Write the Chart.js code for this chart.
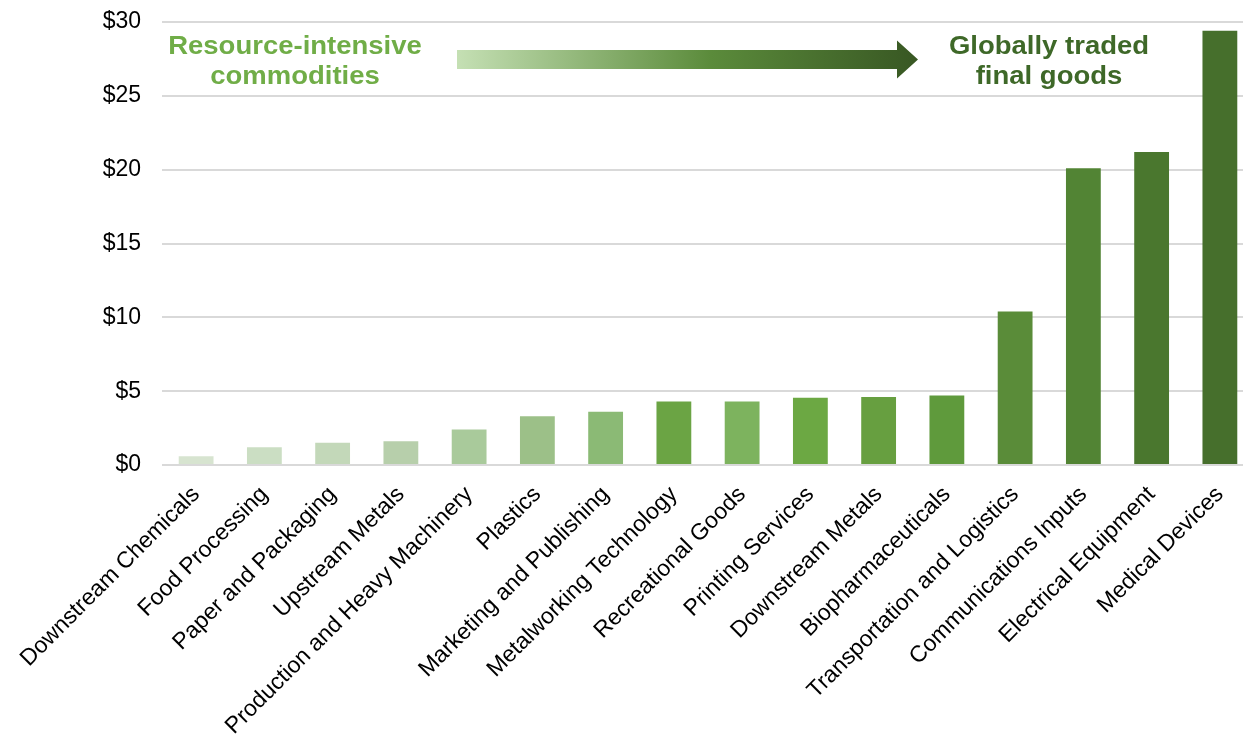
<!DOCTYPE html>
<html lang="en">
<head>
    <meta charset="UTF-8">
    <title>Clusters by value</title>
    <script src="https://cdn.jsdelivr.net/npm/chart.js"></script>
    <style>
        html, body { margin: 0; padding: 0; background: #fff; overflow: hidden; }
        #wrap { width: 1254px; height: 742px; }
    </style>
</head>
<body>
    <div id="wrap"><canvas id="clusterChart" width="1254" height="742"></canvas></div>

    <script>
        // Data
        const categories = [
            "Downstream Chemicals", "Food Processing", "Paper and Packaging", "Upstream Metals",
            "Production and Heavy Machinery", "Plastics", "Marketing and Publishing",
            "Metalworking Technology", "Recreational Goods", "Printing Services", "Downstream Metals",
            "Biopharmaceuticals", "Transportation and Logistics", "Communications Inputs",
            "Electrical Equipment", "Medical Devices"
        ];
        const values = [0.6, 1.2, 1.5, 1.6, 2.4, 3.3, 3.6, 4.3, 4.3, 4.55, 4.6, 4.7, 10.4, 20.1, 21.2, 29.4];
        const barColors = [
            "#d7e4d0", "#cbdec3", "#c3d8b9", "#b7cfab", "#a9ca9b", "#9cc088", "#8bba75",
            "#6ba444", "#7db35e", "#6ca843", "#679f40", "#5f9a3c", "#5a8c39", "#528434",
            "#4a772e", "#466f2c"
        ];
        const yTicks = [0, 5, 10, 15, 20, 25, 30];
        const leftLabel = ["Resource-intensive", "commodities"];
        const rightLabel = ["Globally traded", "final goods"];

        // Header text and gradient arrow
        const annotations = {
            id: "annotations",
            afterDraw(chart) {
                const ctx = chart.ctx;
                const drawLines = (lines, cx, color) => {
                    ctx.save();
                    ctx.fillStyle = color;
                    ctx.font = "bold 25px 'Liberation Sans', Arial, sans-serif";
                    ctx.textAlign = "center";
                    ctx.textBaseline = "alphabetic";
                    lines.forEach((line, i) => {
                        ctx.save();
                        ctx.translate(cx, 54 + i * 30);
                        ctx.scale(1.1, 1);
                        ctx.fillText(line, 0, 0);
                        ctx.restore();
                    });
                    ctx.restore();
                };
                drawLines(leftLabel, 295, "#70ad47");
                drawLines(rightLabel, 1049, "#3e6828");

                ctx.save();
                const grad = ctx.createLinearGradient(457, 0, 918, 0);
                grad.addColorStop(0, "#c5e0b4");
                grad.addColorStop(0.55, "#5b8b3b");
                grad.addColorStop(1, "#385723");
                ctx.fillStyle = grad;
                ctx.beginPath();
                ctx.moveTo(457, 50);
                ctx.lineTo(897, 50);
                ctx.lineTo(897, 40.5);
                ctx.lineTo(918, 59.5);
                ctx.lineTo(897, 78.5);
                ctx.lineTo(897, 69);
                ctx.lineTo(457, 69);
                ctx.closePath();
                ctx.fill();
                ctx.restore();
            }
        };

        const ctx = document.getElementById("clusterChart").getContext("2d");
        new Chart(ctx, {
            type: "bar",
            data: {
                labels: categories,
                datasets: [{
                    data: values,
                    backgroundColor: barColors,
                    categoryPercentage: 1,
                    barPercentage: 0.51
                }]
            },
            options: {
                responsive: false,
                animation: false,
                layout: { padding: { top: 22, right: 0, left: 0, bottom: 0 } },
                plugins: {
                    legend: { display: false },
                    tooltip: { enabled: false }
                },
                scales: {
                    x: {
                        grid: { display: false, drawTicks: false },
                        border: { display: false },
                        ticks: {
                            color: "#000",
                            font: { family: "'Liberation Sans', Arial, sans-serif", size: 23 },
                            minRotation: 45,
                            maxRotation: 45,
                            autoSkip: false,
                            padding: 16
                        },
                        afterFit(scale) {
                            scale.height = 277;
                            scale.paddingLeft = 0;
                            scale.paddingRight = 0;
                        }
                    },
                    y: {
                        min: 0,
                        max: 30,
                        afterBuildTicks(scale) { scale.ticks = yTicks.map(v => ({ value: v })); },
                        grid: { color: "#d9d9d9", lineWidth: 2, drawTicks: false },
                        border: { display: false },
                        ticks: {
                            color: "#000",
                            font: { family: "'Liberation Sans', Arial, sans-serif", size: 23 },
                            padding: 21,
                            callback: v => "$" + v
                        },
                        afterFit(scale) {
                            scale.width = 162;
                            scale.paddingTop = 0;
                            scale.paddingBottom = 0;
                        }
                    }
                }
            },
            plugins: [annotations]
        });
    </script>
</body>
</html>
